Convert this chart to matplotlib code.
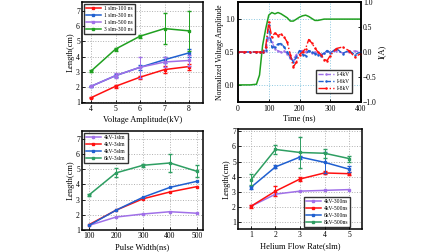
import matplotlib.pyplot as plt

plt.rcParams['font.family'] = ['Liberation Serif', 'DejaVu Serif']
plt.rcParams['axes.unicode_minus'] = True
plt.rcParams['xtick.direction'] = 'in'
plt.rcParams['ytick.direction'] = 'in'
plt.rcParams['xtick.labelsize'] = 5.5
plt.rcParams['ytick.labelsize'] = 5.5
plt.rcParams['axes.linewidth'] = 1.1

RED = '#ff1010'
BLUE = '#1f5fd0'
PURPLE = '#a070e8'
GREEN = '#20a020'
SEA = '#2e9e62'

### voltage amplitude
volt = [4, 5, 6, 7, 8]
v_100 = [1.3, 2.05, 2.65, 3.15, 3.35]
v_100_err = [0.05, 0.1, 0.1, 0.25, 0.2]
v_300 = [2.05, 2.75, 3.3, 3.8, 4.25]
v_300_err = [0.05, 0.1, 0.15, 0.2, 0.25]
v_500 = [2.05, 2.75, 3.3, 3.65, 3.75]
v_500_err = [0.05, 0.15, 0.7, 0.3, 0.35]
v_3slm = [3.05, 4.5, 5.35, 5.85, 5.7]
v_3slm_err = [0.05, 0.1, 0.1, 1.0, 1.3]

### waveform
t = [0, 20, 40, 60, 70, 80, 90, 100, 110, 120, 130, 140, 150, 160, 170, 180,
     190, 200, 210, 220, 230, 240, 250, 260, 270, 280, 290, 300, 320, 340,
     360, 380, 400]
u_norm = [0.0, 0.0, 0.0, 0.01, 0.15, 0.6, 0.85, 1.06, 1.1, 1.08, 1.1, 1.08,
          1.05, 1.02, 0.97, 0.97, 1.0, 1.03, 1.05, 1.06, 1.04, 1.01, 0.98,
          0.98, 0.99, 1.0, 1.0, 1.0, 1.0, 1.0, 1.0, 1.0, 1.0]
i_4kv = [0.0, 0.0, 0.0, 0.0, 0.0, 0.0, 0.02, 0.31, 0.2, 0.07, 0.02, 0.0,
         0.02, -0.03, -0.12, -0.15, -0.05, 0.02, 0.03, 0.0, 0.02, -0.02,
         0.0, -0.03, -0.05, -0.02, 0.02, 0.0, 0.02, -0.02, 0.01, 0.02, 0.0]
i_6kv = [0.0, 0.0, 0.0, 0.0, 0.0, 0.0, 0.05, 0.54, 0.1, 0.1, 0.16, 0.17,
         0.1, 0.0, -0.1, -0.2, -0.1, 0.03, -0.05, -0.07, 0.03, 0.0, -0.03,
         -0.05, -0.07, -0.02, 0.03, -0.02, 0.07, -0.03, 0.03, -0.05, 0.0]
i_8kv = [0.0, 0.0, 0.0, 0.0, 0.0, 0.0, 0.1, 0.6, 0.3, 0.38, 0.33, 0.36,
         0.3, 0.2, -0.05, -0.3, -0.2, -0.05, 0.0, 0.07, 0.25, 0.18, 0.08,
         0.0, -0.05, -0.15, -0.17, -0.07, 0.07, 0.1, 0.03, -0.1, -0.03]

### pulse width
width = [100, 200, 300, 400, 500]
w_4kv1 = [1.3, 1.85, 2.05, 2.2, 2.1]
w_4kv3 = [1.35, 2.3, 3.05, 3.5, 3.85]
w_4kv5 = [1.3, 2.3, 3.15, 3.8, 4.2]
w_6kv3 = [3.3, 4.75, 5.25, 5.4, 4.85]
w_6kv3_err = [0.05, 0.3, 0.1, 0.6, 0.4]

### flow rate
flow = [1, 2, 3, 4, 5]
f_4kv300 = [2.05, 2.85, 3.05, 3.1, 3.15]
f_4kv500 = [2.05, 3.05, 3.85, 4.25, 4.2]
f_4kv500_err = [0.1, 0.35, 0.1, 0.1, 0.1]
f_6kv300 = [3.3, 4.65, 5.3, 4.95, 4.5]
f_6kv300_err = [0.1, 0.1, 0.1, 0.7, 0.2]
f_8kv500 = [3.8, 5.8, 5.6, 5.55, 5.2]
f_8kv500_err = [0.35, 0.3, 1.0, 0.3, 0.2]

W, H = 448, 252
fig = plt.figure(figsize=(W / 100, H / 100), dpi=100)


def box(l, t0, w, h):
    return fig.add_axes([l / W, 1 - (t0 + h) / H, w / W, h / H])


def style(ax):
    ax.grid(True, linestyle=':', color='#b0b0b0', linewidth=0.7)
    ax.tick_params(length=2, width=0.6, pad=1.5)


def line(ax, x, y, c, lab, err=None, m='s'):
    if err is not None:
        ax.errorbar(x, y, yerr=err, color=c, fmt='none', elinewidth=0.7,
                    capsize=1.2)
    ax.plot(x, y, color=c, marker=m, markersize=2, lw=1.1, label=lab)


def leg(ax, loc, **kw):
    ax.legend(loc=loc, fontsize=4, frameon=True, fancybox=False,
              edgecolor='black', handlelength=2.8, borderpad=0.35,
              labelspacing=0.4, handletextpad=0.5, borderaxespad=0.3, **kw)


# top left
ax1 = box(82, 2, 121, 101)
line(ax1, volt, v_100, RED, '1 slm-100 ns', v_100_err)
line(ax1, volt, v_300, BLUE, '1 slm-300 ns', v_300_err)
line(ax1, volt, v_500, PURPLE, '1 slm-500 ns', v_500_err)
line(ax1, volt, v_3slm, GREEN, '3 slm-300 ns', v_3slm_err)
ax1.set_xlim(3.63, 8.57)
ax1.set_ylim(0.95, 7.6)
ax1.set_xticks(volt)
ax1.set_yticks([1, 2, 3, 4, 5, 6, 7])
ax1.set_xlabel('Voltage Amplitude(kV)', fontsize=6, labelpad=2)
ax1.set_ylabel('Length(cm)', fontsize=6, labelpad=1)
style(ax1)
leg(ax1, 'upper left')

# top right
ax2 = box(238, 2, 123, 100)
ax2.plot(t, u_norm, color=GREEN, lw=1.1)
ax2.set_xlim(0, 400)
ax2.set_ylim(-0.26, 1.26)
ax2.set_xticks([0, 100, 200, 300, 400])
ax2.set_yticks([0.0, 0.5, 1.0])
ax2.set_xlabel('Time (ns)', fontsize=6, labelpad=0.5)
ax2.set_ylabel('Normalized Voltage Amplitude', fontsize=5.5, labelpad=1)
ax2.grid(True, linestyle=':', color='#8cc8e0', linewidth=0.7)
ax2.tick_params(length=2, width=0.6, pad=2.5)
ax2r = ax2.twinx()
ax2r.plot(t, i_4kv, color=PURPLE, lw=1.0, ls='--', marker='.', markersize=1.5,
          label='I-4kV')
ax2r.plot(t, i_6kv, color=BLUE, lw=1.0, ls='--', marker='.', markersize=1.5,
          label='I-6kV')
ax2r.plot(t, i_8kv, color=RED, lw=1.0, ls='-.', marker='.', markersize=1.5,
          label='I-8kV')
ax2r.set_ylim(-1.0, 1.0)
ax2r.set_yticks([-1.0, -0.5, 0.0, 0.5, 1.0])
ax2r.set_ylabel('I(A)', fontsize=6, labelpad=1)
ax2r.tick_params(length=2, width=0.6, pad=1.5)
leg(ax2r, 'lower right', bbox_to_anchor=(0.94, 0.07))

# bottom left
ax3 = box(82, 131, 121, 99)
line(ax3, width, w_4kv1, PURPLE, '4kV-1slm')
line(ax3, width, w_4kv3, RED, '4kV-3slm')
line(ax3, width, w_4kv5, BLUE, '4kV-5slm')
line(ax3, width, w_6kv3, SEA, '6kV-3slm', w_6kv3_err)
ax3.set_xlim(74, 522)
ax3.set_ylim(1.0, 7.5)
ax3.set_xticks(width)
ax3.set_yticks([1, 2, 3, 4, 5, 6, 7])
ax3.set_xlabel('Pulse Width(ns)', fontsize=6, labelpad=2.5)
ax3.set_ylabel('Length(cm)', fontsize=6, labelpad=1)
style(ax3)
leg(ax3, 'upper left')

# bottom right
ax4 = box(238, 129, 124, 100)
line(ax4, flow, f_4kv300, PURPLE, '4kV-300ns')
line(ax4, flow, f_4kv500, RED, '4kV-500ns', f_4kv500_err)
line(ax4, flow, f_6kv300, BLUE, '6kV-300ns', f_6kv300_err)
line(ax4, flow, f_8kv500, SEA, '8kV-500ns', f_8kv500_err)
ax4.set_xlim(0.47, 5.53)
ax4.set_ylim(0.55, 7.15)
ax4.set_xticks(flow)
ax4.set_yticks([1, 2, 3, 4, 5, 6, 7])
ax4.set_xlabel('Helium Flow Rate(slm)', fontsize=6, labelpad=2)
ax4.set_ylabel('Length(cm)', fontsize=6, labelpad=1)
style(ax4)
leg(ax4, 'lower right', bbox_to_anchor=(0.92, 0.0))

fig.savefig('out.png', dpi=100)
